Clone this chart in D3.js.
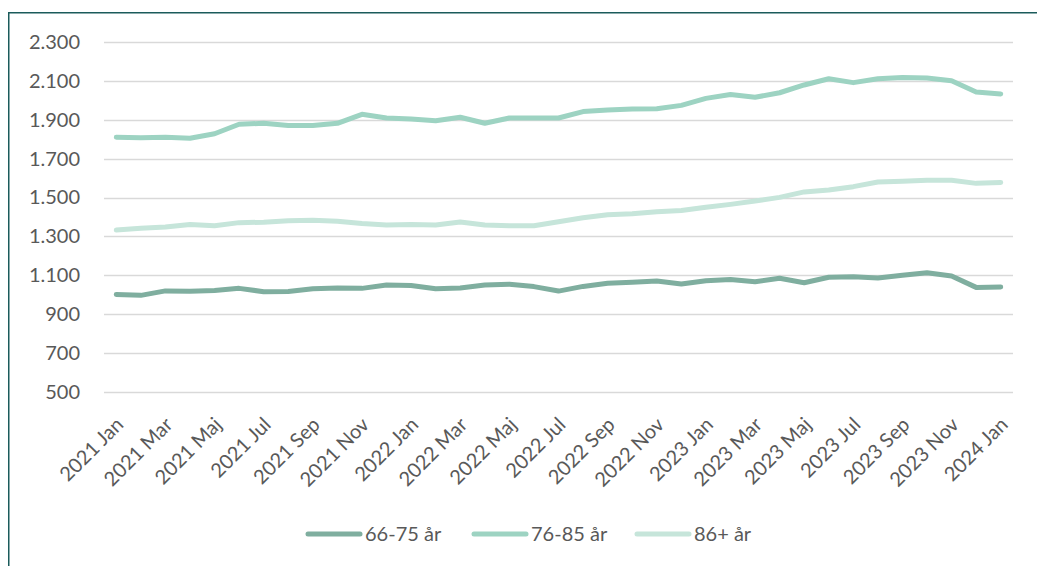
<!DOCTYPE html>
<html>
<head>
<meta charset="utf-8">
<script src="https://cdn.jsdelivr.net/npm/d3@7"></script>
<style>
  body { margin: 0; background: #fff; }
  text { font-family: Lato, "Open Sans", sans-serif; fill: #595959; }
</style>
</head>
<body>
<script>
var width = 1037,
    height = 566;

// data
var monthNames = ["Jan", "Feb", "Mar", "Apr", "Maj", "Jun", "Jul", "Aug", "Sep", "Okt", "Nov", "Dec"];
var months = [];
for (var yr = 2021; yr <= 2024; yr++) {
  monthNames.forEach(function(m) { months.push(yr + " " + m); });
}
months = months.slice(0, 37); // 2021 Jan .. 2024 Jan

var seriesNames = ["66-75 år", "76-85 år", "86+ år"];
var seriesColors = ["#7fae9f", "#9dd3c2", "#c6e5da"];

var age6675 = [1002, 997, 1020, 1018, 1022, 1033, 1016, 1017, 1031, 1035,
  1033, 1050, 1048, 1031, 1035, 1050, 1054, 1042, 1019, 1043,
  1059, 1064, 1071, 1055, 1072, 1079, 1067, 1085, 1062, 1090,
  1093, 1086, 1100, 1113, 1097, 1038, 1040];
var age7685 = [1810, 1808, 1810, 1805, 1828, 1877, 1882, 1871, 1871, 1882,
  1928, 1909, 1904, 1895, 1913, 1882, 1909, 1909, 1909, 1942,
  1950, 1955, 1957, 1974, 2010, 2030, 2016, 2039, 2079, 2111,
  2091, 2111, 2118, 2115, 2101, 2043, 2033];
var age86 = [1333, 1342, 1349, 1362, 1355, 1371, 1373, 1381, 1383, 1378,
  1366, 1359, 1362, 1359, 1374, 1359, 1355, 1355, 1376, 1396,
  1412, 1417, 1427, 1433, 1450, 1465, 1482, 1501, 1529, 1539,
  1556, 1580, 1584, 1589, 1589, 1573, 1578];

var yTicks = [500, 700, 900, 1100, 1300, 1500, 1700, 1900, 2100, 2300];

var svg = d3.select("body").append("svg")
    .attr("width", width)
    .attr("height", height);

// frame
svg.append("rect")
    .attr("x", 8.75)
    .attr("y", 12.75)
    .attr("width", width + 20)
    .attr("height", height + 20)
    .attr("fill", "none")
    .attr("stroke", "#1b5b5b")
    .attr("stroke-width", 1.5);

var x = d3.scalePoint()
    .domain(months)
    .range([104, 1013])
    .padding(0.5);

var y = d3.scaleLinear()
    .domain([500, 2300])
    .range([392, 42]);

// gridlines
svg.append("g")
    .selectAll("line")
    .data(yTicks)
    .enter()
    .append("line")
    .attr("x1", 104)
    .attr("x2", 1013)
    .attr("y1", function(d) { return Math.round(y(d)) + 0.5; })
    .attr("y2", function(d) { return Math.round(y(d)) + 0.5; })
    .attr("stroke", "#d9d9d9")
    .attr("stroke-width", 1.5);

// y axis
var fmt = function(d) { return d3.format(",")(d).replace(",", "."); };
var yAxis = svg.append("g")
    .attr("transform", "translate(80,0)")
    .call(d3.axisLeft(y).tickValues(yTicks).tickSize(0).tickPadding(0).tickFormat(fmt));
yAxis.select(".domain").remove();
yAxis.selectAll("text")
    .attr("font-size", 20)
    .style("font-family", "Lato, sans-serif")
    .attr("fill", "#595959");

// x axis
var xAxis = svg.append("g")
    .attr("transform", "translate(0,392)")
    .call(d3.axisBottom(x)
      .tickValues(months.filter(function(d, i) { return i % 2 === 0; }))
      .tickSize(0));
xAxis.select(".domain").remove();
xAxis.selectAll("text")
    .attr("font-size", 20)
    .style("font-family", "Lato, sans-serif")
    .attr("fill", "#595959")
    .attr("text-anchor", "end")
    .attr("x", 0)
    .attr("y", 0)
    .attr("dy", "0.35em")
    .attr("transform", "translate(3,29) rotate(-45)");

// lines
var allSeries = [age6675, age7685, age86];
var line = d3.line()
    .x(function(d, i) { return x(months[i]); })
    .y(function(d) { return y(d); });

svg.append("g")
    .selectAll("path")
    .data(allSeries)
    .enter()
    .append("path")
    .attr("d", line)
    .attr("fill", "none")
    .attr("stroke", function(d, i) { return seriesColors[i]; })
    .attr("stroke-width", 5)
    .attr("stroke-linejoin", "round")
    .attr("stroke-linecap", "round");

// legend
var legendX = [306, 472, 635];
var legend = svg.append("g")
    .selectAll("g")
    .data(seriesNames)
    .enter()
    .append("g")
    .attr("transform", function(d, i) { return "translate(" + legendX[i] + ",534)"; });
legend.append("line")
    .attr("x1", 2)
    .attr("x2", 54)
    .attr("stroke", function(d, i) { return seriesColors[i]; })
    .attr("stroke-width", 5)
    .attr("stroke-linecap", "round");
legend.append("text")
    .attr("x", 59)
    .attr("dy", "0.35em")
    .attr("font-size", 20)
    .text(function(d) { return d; });
</script>
</body>
</html>
